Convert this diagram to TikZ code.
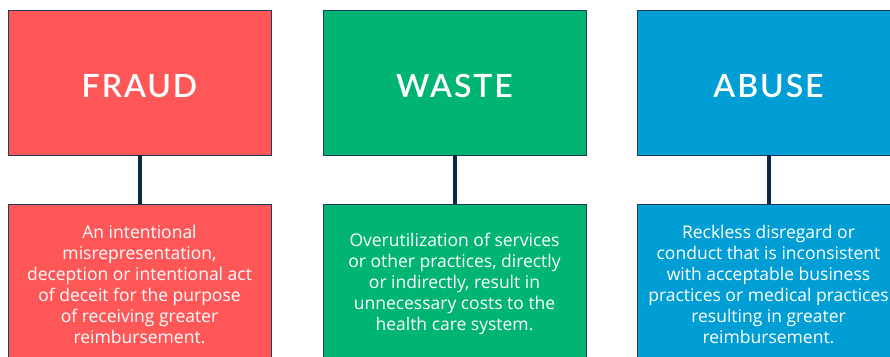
\documentclass[tikz,border=0pt]{standalone}
\usepackage{fontspec}
\setmainfont{Open Sans}
\newfontfamily\titlefont[LetterSpace=6]{Lato Semibold}
\definecolor{fraudred}{HTML}{FF5757}
\definecolor{wastegreen}{HTML}{00B474}
\definecolor{abuseblue}{HTML}{009ED5}
\definecolor{boxline}{HTML}{1F3A5A}
\definecolor{linkcol}{HTML}{0B2A45}
\begin{document}
\begin{tikzpicture}[x=1pt,y=1pt]
\useasboundingbox (0,0) rectangle (890,356);
\clip (0,0) rectangle (890,356);
\tikzset{
  topbox/.style={draw=boxline, line width=0.8pt, minimum width=263pt, minimum height=145pt, inner sep=0pt, outer sep=0pt},
  botbox/.style={draw=boxline, line width=0.8pt, minimum width=263pt, minimum height=176pt, inner sep=0pt, outer sep=0pt},
  titletext/.style={text=white, inner sep=0pt, font=\titlefont\fontsize{32}{36}\selectfont},
  desctext/.style={text=white, align=center, inner sep=0pt, font=\fontsize{17.5}{21}\selectfont},
  link/.style={draw=linkcol, line width=4pt}
}
% top boxes
\node[topbox, fill=fraudred] (fraudT) at (139.5,273.5) {};
\node[topbox, fill=wastegreen] (wasteT) at (454.5,273.5) {};
\node[topbox, fill=abuseblue] (abuseT) at (768.5,273.5) {};
% bottom boxes
\node[botbox, fill=fraudred] (fraudB) at (139.5,64) {};
\node[botbox, fill=wastegreen] (wasteB) at (454.5,64) {};
\node[botbox, fill=abuseblue] (abuseB) at (768.5,64) {};
% connectors
\draw[link] (fraudT.south) -- (fraudB.north);
\draw[link] (wasteT.south) -- (wasteB.north);
\draw[link] (abuseT.south) -- (abuseB.north);
% titles
\node[titletext] (fraudL) at (139.5,270) {FRAUD};
\node[titletext] (wasteL) at (454.5,270) {WASTE};
\node[titletext] (abuseL) at (768.5,270) {ABUSE};
% descriptions
\node[desctext] (fraudD) at (139.5,72) {An intentional\\misrepresentation,\\deception or intentional act\\of deceit for the purpose\\of receiving greater\\reimbursement.};
\node[desctext] (wasteD) at (454.5,72) {Overutilization of services\\or other practices, directly\\or indirectly, result in\\unnecessary costs to the\\health care system.};
\node[desctext] (abuseD) at (768.5,72) {Reckless disregard or\\conduct that is inconsistent\\with acceptable business\\practices or medical practices\\resulting in greater\\reimbursement.};
\end{tikzpicture}
\end{document}
